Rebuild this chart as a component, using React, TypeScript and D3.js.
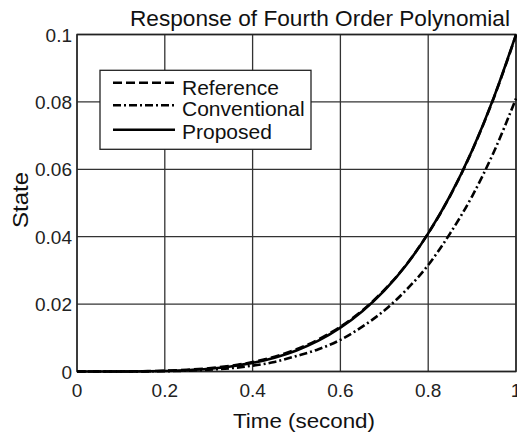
import React from "react";
import * as d3 from "d3";

const time = [0, 0.05, 0.1, 0.15, 0.2, 0.25, 0.3, 0.35, 0.4, 0.45, 0.5, 0.55, 0.6, 0.65, 0.7, 0.75, 0.8, 0.85, 0.9, 0.95, 1];
const referenceValues = [0, 0.000002, 0.00002, 0.00008, 0.00022, 0.0005, 0.00095, 0.0017, 0.0028, 0.0044, 0.0066, 0.0095, 0.0133, 0.0181, 0.0242, 0.0317, 0.041, 0.0521, 0.0655, 0.0814, 0.0998];
const conventionalValues = [0, 0.000001, 0.000005, 0.00003, 0.0001, 0.00024, 0.00052, 0.00098, 0.00173, 0.00283, 0.0046, 0.0066, 0.0094, 0.0133, 0.0181, 0.0242, 0.0316, 0.041, 0.052, 0.0653, 0.081];
const proposedValues = [0, 0.000001, 0.00001, 0.00005, 0.00016, 0.00039, 0.00081, 0.0015, 0.00256, 0.0041, 0.00625, 0.00915, 0.013, 0.0179, 0.024, 0.0316, 0.041, 0.0522, 0.0656, 0.0815, 0.1];

const xTicks = [0, 0.2, 0.4, 0.6, 0.8, 1];
const xTickLabels = ["0", "0.2", "0.4", "0.6", "0.8", "1"];
const yTicks = [0, 0.02, 0.04, 0.06, 0.08, 0.1];
const yTickLabels = ["0", "0.02", "0.04", "0.06", "0.08", "0.1"];
const seriesNames = ["Reference", "Conventional", "Proposed"];
const dashes = ["9 4", "8 3 2 3", "none"];

const W = 517;
const H = 436;
const FONT = "'Liberation Sans', Arial, Helvetica, sans-serif";

export default function App() {
  const x = d3.scaleLinear().domain([0, 1]).range([77, 516]);
  const y = d3.scaleLinear().domain([0, 0.1]).range([371.5, 34.5]);
  const series = [referenceValues, conventionalValues, proposedValues];
  const line = d3
    .line<number>()
    .x((_, i) => x(time[i]))
    .y((d) => y(d))
    .curve(d3.curveMonotoneX);

  const legX = 100, legY = 70.3, legW = 211, legH = 79;
  const rowLine = [82.7, 105.3, 129.7];
  const rowBase = [94.7, 116.3, 139.3];

  return (
    <svg
      width={W}
      height={H}
      style={{ position: "absolute", left: 0, top: 0, background: "#fff" }}
      fontFamily={FONT}
    >
      <rect x={0} y={0} width={W} height={H} fill="#fff" />
      {/* grid */}
      {xTicks.map((t, i) => (
        <line key={"gx" + i} x1={x(t)} x2={x(t)} y1={y(0)} y2={y(0.1)} stroke="#333" strokeWidth={1.3} />
      ))}
      {yTicks.map((t, i) => (
        <line key={"gy" + i} x1={x(0)} x2={x(1)} y1={y(t)} y2={y(t)} stroke="#333" strokeWidth={1.3} />
      ))}
      {/* frame */}
      <rect x={x(0)} y={y(0.1)} width={x(1) - x(0)} height={y(0) - y(0.1)} fill="none" stroke="#222" strokeWidth={1.4} />
      {/* curves */}
      {series.map((s, i) => (
        <path
          key={"s" + i}
          d={line(s) || ""}
          fill="none"
          stroke="#000"
          strokeWidth={2.6}
          strokeDasharray={dashes[i]}
        />
      ))}
      {/* tick labels */}
      {xTicks.map((t, i) => (
        <text key={"tx" + i} x={x(t)} y={397} fontSize={19} textAnchor="middle" fill="#222">
          {xTickLabels[i]}
        </text>
      ))}
      {yTicks.map((t, i) => (
        <text key={"ty" + i} x={72} y={y(t) + 7} fontSize={19} textAnchor="end" fill="#222">
          {yTickLabels[i]}
        </text>
      ))}
      {/* title & labels */}
      <text x={320} y={26} fontSize={21.5} textAnchor="middle" fill="#111" textLength={380} lengthAdjust="spacingAndGlyphs">
        Response of Fourth Order Polynomial
      </text>
      <text x={304} y={428} fontSize={21} textAnchor="middle" fill="#111" textLength={142} lengthAdjust="spacingAndGlyphs">
        Time (second)
      </text>
      <text
        transform={`translate(28,200) rotate(-90)`}
        fontSize={21.5}
        textAnchor="middle"
        fill="#111"
        textLength={56}
        lengthAdjust="spacingAndGlyphs"
      >
        State
      </text>
      {/* legend */}
      <rect x={legX} y={legY} width={legW} height={legH} fill="#fff" stroke="#222" strokeWidth={1.3} />
      {seriesNames.map((n, i) => (
        <g key={"l" + i}>
          <line x1={113} x2={175} y1={rowLine[i]} y2={rowLine[i]} stroke="#000" strokeWidth={2.6} strokeDasharray={dashes[i]} />
          <text x={182} y={rowBase[i]} fontSize={21} fill="#111">
            {n}
          </text>
        </g>
      ))}
    </svg>
  );
}
